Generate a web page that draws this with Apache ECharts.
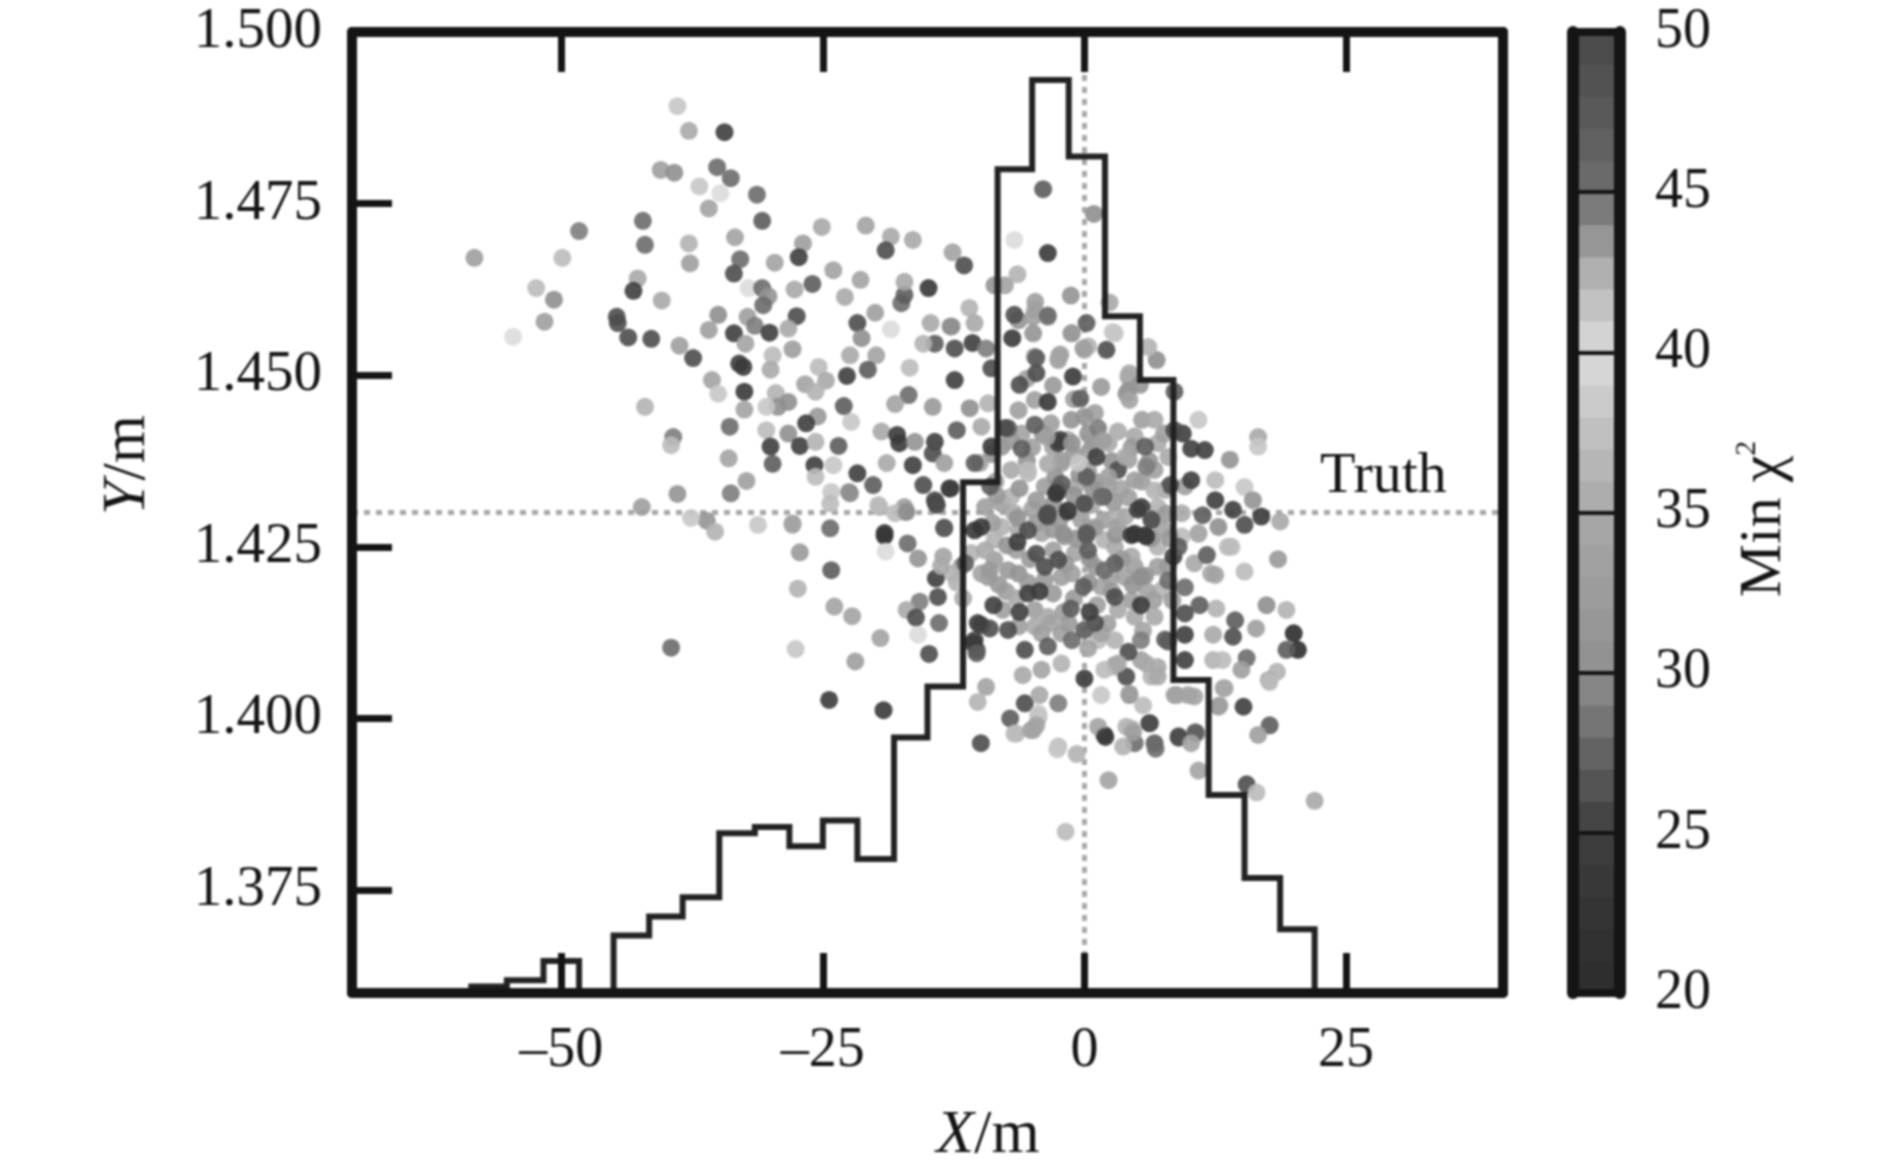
<!DOCTYPE html>
<html><head><meta charset="utf-8">
<style>html,body{margin:0;padding:0;background:#fff}#c{width:1890px;height:1174px;filter:blur(0.8px)}</style>
<script src="https://cdn.jsdelivr.net/npm/echarts@6/dist/echarts.min.js"></script>
</head><body><div id="c"></div>
<script>
const xTicks=[-50,-25,0,25];
const yTicks=[1.375,1.4,1.425,1.45,1.475,1.5];
const chiTicks=[25,30,35,40,45];
const truthX=0, truthY=1.43;
const histEdges=[-58.6,-55.2,-51.7,-48.3,-45,-41.6,-38.4,-34.9,-31.5,-28.2,-25,-21.7,-18.2,-15,-11.6,-8.3,-5,-1.5,1.96,5.3,8.5,11.87,15.3,18.7,22];
const histCounts=[1,2,5,0,9,12,15,25,26,23,27,21,40,48,80,129,143,131,106,96,49,31,18,10];
const greyStops=['#2c2c2c','#343434','#3e3e3e','#636363','#8f8f8f','#9c9c9c','#a8a8a8','#c0c0c0','#dcdcdc','#b0b0b0','#6e6e6e','#595959','#484848'];
const chiBands=[20,21,22,23,24,25,26,27,28,29,30,31,32,33,34,35,36,37,38,39,40,41,42,43,44,45,46,47,48,49];
// [X/m, Y/m, min chi^2]
const coreFill=[[-8.8,1.4385,31],[-7,1.4405,32],[-5.5,1.4375,31],[-4,1.4415,31],[-2.8,1.4352,31],[-1,1.4385,32],[.8,1.4402,32],[2.6,1.4375,31],[4.5,1.4395,32],[6.2,1.4375,31],[7.6,1.4415,33],[-8.4,1.4325,32],[-6.2,1.4335,31],[-4.6,1.4318,32],[-3,1.4312,31],[-1,1.4325,31],[.8,1.4335,31],[2.8,1.4315,32],[4.2,1.4322,33],[7.8,1.4298,32],[-8.8,1.4285,33],[-6.4,1.4292,31],[-4.6,1.4285,32],[-2.4,1.4288,32],[-.8,1.4262,31],[1,1.4278,32],[3,1.4268,31],[6.4,1.4262,32],[8.2,1.4262,32],[-7.4,1.4252,31],[-5.2,1.4232,32],[-1.8,1.4225,32],[.5,1.4232,31],[3.6,1.4232,32],[5.8,1.4208,31],[8,1.4222,32],[-8.2,1.4195,32],[-5.4,1.4198,32],[-3,1.4182,32],[.4,1.4198,31],[2.6,1.4185,32],[4.6,1.4195,31],[6.6,1.4172,33],[8.4,1.4172,33],[-7.8,1.4158,33],[-1.5,1.4138,32],[2.2,1.4138,33],[5.6,1.4128,34]];
const coreLight=[[-7,1.4362,35],[-5.4,1.4357,37],[-7.9,1.4313,33],[-6.7,1.4299,35],[-7.9,1.4279,36],[-3.8,1.4338,33],[-.9,1.4338,35],[.35,1.4362,33],[2.3,1.4338,33],[-2.2,1.4372,33],[-1.6,1.4406,35],[2.3,1.4401,35],[3.2,1.4418,37],[4.8,1.4411,35],[7,1.4401,35],[4.2,1.4377,33],[6.7,1.4362,33],[8,1.4381,35],[1.9,1.4289,33],[3.2,1.4294,36],[7,1.4308,36],[7.7,1.4333,35],[1.9,1.426,36],[-.3,1.4289,33],[-1.9,1.4265,33],[-4.1,1.427,34],[-6.3,1.4274,35],[-8.6,1.426,36],[-9.2,1.4206,32],[-7.3,1.4216,32],[-8.6,1.4231,33],[-6.3,1.4211,31],[-2.2,1.4206,33],[-3.8,1.4202,32],[-4.75,1.4158,33],[-3.5,1.4148,35],[-3.2,1.4139,34],[-4.75,1.4134,35],[-6.3,1.4134,33],[1,1.4221,32],[-1.2,1.4211,33],[1.6,1.4192,34],[3.85,1.4206,34],[4.8,1.4221,33],[7,1.4221,33],[7.4,1.4187,36],[4.5,1.4172,33],[4.8,1.4148,35],[6.7,1.4148,35],[3.2,1.4158,35],[7,1.425,36],[4.5,1.4236,35],[2.9,1.425,35],[-.9,1.4241,34],[-7.9,1.4396,31],[-6.3,1.4449,33],[-4.75,1.4464,33],[-2.5,1.4522,33],[-1.25,1.4561,33],[1.6,1.4483,35],[4.2,1.4498,34],[4.2,1.4478,31],[0,1.4537,35],[2.9,1.4561,38],[-4.75,1.4527,32],[-6.3,1.458,31],[-4.75,1.4595,36],[-3.5,1.4585,31],[-1.25,1.4435,31],[-3.2,1.443,33],[.35,1.4415,31],[-7,1.4323,36],[-9.5,1.4308,33],[-10.8,1.4241,36],[-9.85,1.4211,34],[-11.8,1.4221,35],[1.3,1.4114,37],[2.9,1.4114,36],[5.4,1.4085,33],[7,1.4075,35],[6.4,1.4061,36],[2.9,1.4075,37],[1.6,1.4124,34],[.35,1.4102,34],[-2.2,1.4124,33],[-4.1,1.4124,33],[9.3,1.4265,37],[10.9,1.427,36],[12.1,1.4211,35],[13.7,1.425,37],[10.5,1.4226,35],[9.3,1.4299,35],[9.6,1.4338,33],[-5,1.4395,33],[-3,1.4395,34],[.5,1.439,33],[5.5,1.4435,33],[-6,1.4415,34],[-8.5,1.4345,34],[-5,1.4305,34],[-3,1.4275,32],[-.5,1.4355,31],[1,1.4345,32],[3.5,1.4335,34],[5.5,1.4345,33],[7.5,1.4275,34],[.5,1.4275,34],[-6.5,1.4245,33],[-3,1.4245,33],[-7.5,1.4185,33],[-1,1.4175,32],[1.2,1.4165,33],[2.5,1.4205,33],[6,1.4185,34],[-2,1.4155,33],[-6.5,1.4175,35],[-9.5,1.4245,35],[-1,1.4465,33],[1,1.4445,33],[-3,1.4485,32],[-5.5,1.4495,33]];
const upperLeft=[[-58.3,1.4671,33],[-48.3,1.471,29],[-49.9,1.4671,37],[-52.4,1.4627,37],[-50.7,1.461,30],[-51.6,1.4578,33],[-54.6,1.4556,40],[-38.9,1.4892,38],[-37.8,1.4856,35],[-34.4,1.4854,25],[-40.5,1.4799,33],[-39.2,1.4795,30],[-35.1,1.4803,28],[-33.8,1.4787,28],[-36.8,1.4775,38],[-34.8,1.4765,40],[-31.3,1.4763,28],[-35.9,1.4743,34],[-30.8,1.4725,27],[-42.2,1.4725,28],[-42,1.469,28],[-37.8,1.4692,36],[-37.7,1.4663,33],[-33.4,1.4701,34],[-32.9,1.4669,28],[-33.5,1.4648,26],[-29.6,1.4664,34],[-26.9,1.4692,33],[-27.3,1.4672,25],[-25.1,1.4716,35],[-20.9,1.4718,34],[-18.5,1.4702,35],[-16.4,1.4697,35],[-19,1.4682,26],[-12.6,1.4679,34],[-24,1.4653,34],[-26,1.4633,27],[-21.4,1.4639,34],[-22.9,1.4614,35],[-27.7,1.4625,35],[-32.1,1.4627,40],[-30.8,1.4627,28],[-30.2,1.4615,31],[-30.7,1.4602,28],[-27.5,1.4586,26],[-21.7,1.4576,26],[-20,1.4591,33],[-17.5,1.4605,28],[-17.2,1.4617,27],[-17.2,1.4636,35],[-14.9,1.4627,23],[-18.5,1.4567,40],[-21.3,1.4554,30],[-42.7,1.4641,35],[-43.1,1.4623,25],[-40.4,1.4609,35],[-44.7,1.4585,26],[-44.6,1.4576,26],[-43.6,1.4555,26],[-41.4,1.4553,26],[-35,1.4588,30],[-35.9,1.4566,33],[-32.2,1.4585,33],[-31.5,1.4572,29],[-33.5,1.4561,25],[-30.1,1.4562,25],[-28.3,1.4568,35],[-27.9,1.4538,33],[-32.4,1.4546,34],[-38.7,1.4543,33],[-37.4,1.4525,26],[-33,1.4517,25],[-32.6,1.4512,24],[-29.8,1.4529,37],[-30,1.4508,35],[-25.4,1.4512,37],[-22.4,1.4529,35],[-19.9,1.4529,34],[-20.7,1.4508,27],[-22.7,1.4499,25],[-16.7,1.4511,37],[-24.7,1.4492,35],[-26.7,1.4487,34],[-35.6,1.4493,34],[-35,1.4473,38],[-32.5,1.4476,24],[-29.5,1.4474,36],[-25.7,1.4476,36],[-16.8,1.4471,28],[-18.1,1.4458,34],[-28.3,1.4461,30],[-29.3,1.4454,30],[-30.4,1.4454,38],[-32.5,1.445,34],[-42,1.4454,36],[-23,1.4455,27],[-14.5,1.4454,32],[-25.5,1.444,32],[-26.6,1.443,25],[-22.3,1.4432,38],[-33.9,1.4425,28],[-39.3,1.441,29],[-39.5,1.4398,37],[-30.4,1.442,37],[-28.3,1.4415,30],[-30,1.4396,25],[-29.8,1.4371,27],[-27.2,1.4397,25],[-25.7,1.4403,36],[-23.5,1.4397,27],[-25.8,1.4369,25],[-24,1.4369,38],[-25.7,1.4352,37],[-34,1.4379,34],[-32.3,1.4346,33],[-33.8,1.4328,29],[-38.9,1.4327,31],[-21.7,1.4357,25],[-18.9,1.4372,35],[-16.4,1.4369,25],[-20.2,1.434,27],[-22.5,1.433,30],[-24.2,1.433,38],[-19.4,1.4418,35],[-17.9,1.4413,24],[-17.7,1.4401,24],[-16.2,1.4403,31],[-14.3,1.4403,25],[-14.5,1.4386,26],[-15.4,1.434,26],[-14.3,1.4318,26],[-12.8,1.4335,24],[-13.4,1.4372,33],[-12.2,1.442,27],[-12.4,1.4493,25],[-14.3,1.4546,27],[-12.4,1.4539,26],[-15.4,1.4546,36],[-14.7,1.4576,35],[-12.8,1.4571,31],[-42.3,1.4308,33],[-24.3,1.4313,37],[-19.6,1.4308,36],[-17.2,1.4308,33]];
const centerPoints=[[-11.5,1.466,26],[-3.95,1.4771,27],[-3.5,1.4678,24],[-6.7,1.4697,40],[-6.4,1.4647,36],[.9,1.4735,30],[-8.6,1.4631,31],[-7.6,1.4631,34],[-1.3,1.4616,31],[2.4,1.4606,35],[-4.7,1.4607,33],[-4.9,1.4585,33],[-6.7,1.4588,26],[-3.5,1.4587,28],[.2,1.4576,27],[-1.2,1.4561,32],[2.7,1.4563,38],[-6.9,1.4554,24],[-4.9,1.4561,31],[2.1,1.4537,26],[.35,1.4542,36],[-2.3,1.453,35],[-4.6,1.4525,27],[-11,1.4598,36],[-10.5,1.4576,35],[-12.7,1.4571,30],[-10.7,1.4547,25],[-9.4,1.4539,29],[-8.9,1.451,26],[-10.96,1.4452,30],[-9.2,1.4459,36],[-4.6,1.4503,26],[-6.2,1.4486,26],[-3.5,1.4461,23],[-10,1.4372,34],[-10.5,1.4372,27],[-12.9,1.4335,25],[-9,1.4338,27],[-7.3,1.4423,27],[-4.75,1.4428,27],[-6,1.4393,27],[-8.9,1.4396,24],[-9.85,1.4425,35],[-5.4,1.4362,37],[-2.5,1.4401,25],[-2.5,1.4333,26],[-3.5,1.4299,26],[-9.85,1.4279,24],[-10.5,1.4274,23],[-13.4,1.4278,27],[-19.1,1.427,23],[-27.9,1.4282,34],[-24.3,1.4277,28],[-14.1,1.4311,26],[-17,1.4301,30],[6.9,1.4522,30],[6.1,1.4541,36],[-1.1,1.4498,24],[-2.4,1.4529,34],[-.1,1.4539,33],[-.4,1.4466,27],[4.3,1.4503,35],[1.6,1.4483,34],[4,1.4473,31],[5.3,1.4486,31],[4.3,1.4464,34],[8.6,1.4476,27],[3.2,1.4418,36],[6.7,1.4435,35],[10.9,1.4435,38],[9.4,1.4415,25],[8.6,1.442,26],[16.6,1.441,35],[16.6,1.4396,38],[10.2,1.4393,25],[11.5,1.4391,25],[13.9,1.4377,31],[5.8,1.4396,27],[1.15,1.4381,25],[3.2,1.4362,26],[-2.35,1.4406,25],[1.3,1.4423,29],[10.2,1.4347,25],[8.2,1.434,26],[12.5,1.4347,37],[15.3,1.4337,38],[12.5,1.4318,25],[16.1,1.4318,31],[14.2,1.4304,25],[11.3,1.4296,27],[16.9,1.4294,24],[15.3,1.4282,26],[12.8,1.4279,30],[18.7,1.4287,35],[-2.7,1.4328,25],[-2.2,1.4342,27],[-1.6,1.4301,26],[-3.5,1.4294,27],[1.8,1.4323,27],[.2,1.4352,27],[5.45,1.4308,25],[4.8,1.4269,23],[5.8,1.4267,23],[.2,1.4267,27],[10.9,1.4269,35],[-2,1.4269,30],[5.9,1.4367,29],[-.6,1.4372,38],[6.7,1.4332,36],[6.4,1.4291,31],[3.2,1.4279,33],[-1.2,1.4401,31],[0,1.444,31],[-3.6,1.441,33],[1.8,1.4405,33],[3.9,1.4381,35],[-2.2,1.4376,33],[-3.5,1.4371,35],[2.3,1.4352,33],[4.8,1.4347,33],[.67,1.4311,35],[3.9,1.4294,35],[-.9,1.4311,33],[-7.6,1.4423,26],[-2.7,1.4328,24],[-1.6,1.4303,24],[0,1.4313,26],[1.6,1.4323,28],[-3.6,1.4296,26],[-5.4,1.4274,26],[-6.4,1.4257,25],[-4.6,1.424,26],[-2.5,1.4231,26],[-3.8,1.4221,26],[.2,1.427,27],[.35,1.4245,27],[2.9,1.4226,27],[1.9,1.4216,28],[4.5,1.4267,23],[5.9,1.4265,24],[5.1,1.4304,25],[6.4,1.4289,26],[8.5,1.4236,25],[9,1.425,27],[11.7,1.4238,27],[-4.3,1.4185,24],[-5.4,1.4182,25],[-8.7,1.4165,25],[-6.2,1.4155,25],[-1.3,1.416,27],[2.9,1.4177,26],[5.4,1.4165,24],[.5,1.4155,25],[-.1,1.4192,27],[5.4,1.4206,30],[8,1.4201,28],[9.6,1.4191,28],[9.6,1.4153,26],[11,1.4165,27],[-13.7,1.4222,35],[-12.2,1.4198,36]];
const lowerPoints=[[9.6,1.4122,25],[9.6,1.4085,25],[8,1.4112,27],[-9.85,1.4136,26],[-9.05,1.4131,26],[-7.3,1.4129,26],[-5.7,1.41,26],[-3.5,1.4105,27],[-1.2,1.4114,28],[1,1.4139,26],[0,1.4129,27],[4.2,1.4097,26],[5.4,1.4114,29],[-10.5,1.4114,25],[-10.3,1.41,26],[0,1.4058,24],[4,1.4061,26],[2.9,1.4078,35],[6.2,1.3993,26],[1.9,1.3976,25],[15.2,1.4017,25],[17.7,1.399,27],[16.6,1.3976,33],[20,1.4124,20],[20.4,1.41,20],[19.3,1.41,27],[17.4,1.4165,30],[19.3,1.4158,36],[16.4,1.4131,33],[14.4,1.4143,27],[14.2,1.4119,26],[15.5,1.4088,28],[15,1.4071,33],[12.3,1.4122,35],[12.3,1.4085,36],[13.2,1.4085,37],[12.6,1.416,36],[18.4,1.4068,36],[17.6,1.4056,35],[13.3,1.4044,35],[12.8,1.4017,33],[10.5,1.4032,34],[8.8,1.4034,33],[10.7,1.3978,30],[9,1.3974,26],[18.5,1.4232,32],[15.3,1.4214,37],[14.05,1.425,37],[12.5,1.4209,34],[-9.4,1.4046,34],[-10.2,1.4024,36],[-5.9,1.4063,35],[-4.1,1.4071,34],[-2.2,1.408,36],[1.6,1.4034,38],[-5.7,1.4022,26],[-2.5,1.4022,29],[-7.1,1.4,27],[-6.5,1.3978,37],[-4.9,1.3983,35],[-4.4,1.4002,36],[-9.9,1.3964,26],[-2.5,1.3959,37],[1.3,1.3988,34],[4.5,1.3985,36],[4.3,1.4034,30],[5.6,1.4019,37],[6.7,1.3964,27],[4.8,1.3964,28],[-36.1,1.4288,31],[-35.3,1.4272,36],[-37.6,1.4292,38],[-31.2,1.4282,38],[-27.9,1.4284,34],[-22.4,1.4328,30],[-19.1,1.4266,22],[-19,1.4243,40],[-16.9,1.4255,28],[-15.9,1.4233,31],[-17.1,1.4301,31],[-19.7,1.4311,37],[-18.1,1.4299,37],[-14.2,1.4313,25],[-13.4,1.4277,27],[-13.5,1.4236,34],[-27.2,1.4242,32],[-24.2,1.4216,27],[-27.4,1.4189,36],[-14.2,1.4204,25],[-14,1.4177,26],[-15.75,1.417,29],[-17,1.4158,35],[-16.1,1.4147,26],[-13.9,1.4139,28],[-15.9,1.4122,40],[-23.9,1.4163,34],[-22.2,1.4149,34],[-19.5,1.4117,34],[-21.9,1.4083,33],[-27.6,1.4101,38],[-39.5,1.4103,28],[-14.85,1.4094,26],[-12.6,1.4211,36],[-11.6,1.4175,35],[-10.6,1.4109,24],[-10.3,1.4095,27],[-24.4,1.4027,24],[-19.2,1.4012,24],[-9.05,1.4216,32],[-11.4,1.4226,27],[-10.2,1.4139,25],[-4.3,1.4034,35],[-4.4,1.4007,38],[-4.6,1.399,34],[-6.7,1.3978,37],[-5.1,1.3983,34],[-2.6,1.3955,38],[-.75,1.3948,36],[-1.8,1.3835,37],[2.3,1.391,34],[4.3,1.4036,33],[2,1.3973,24],[6.25,1.3993,26],[4,1.3988,36],[4.65,1.398,33],[3.7,1.3959,36],[6.8,1.3956,28],[9,1.3972,26],[10.6,1.398,27],[10.2,1.3964,34],[10.9,1.3924,34],[15.5,1.3904,26],[16.45,1.3892,37],[22,1.388,35],[12.9,1.4019,33],[13.4,1.4044,35],[17.7,1.4053,37],[8.6,1.4034,34],[9.9,1.4034,34],[7.7,1.4115,27],[1.9,1.4071,37],[3.2,1.408,35],[5.9,1.408,35],[7,1.4061,35]];
const allPoints=coreLight.concat(coreFill,upperLeft,lowerPoints,centerPoints);

const serif='"Liberation Serif","Times New Roman",serif';
const ink='#141414';
const tickStyle={color:ink,width:7};
const histLine=[[histEdges[0],0]].concat(histCounts.map((c,i)=>[histEdges[i],c]),[[histEdges[histEdges.length-1],0]]);
const frameLine={show:true,onZero:false,lineStyle:{color:ink,width:10}};

const option={
 backgroundColor:'#fff',animation:false,
 grid:[{left:352,top:32,width:1151,height:961},{left:1573,top:32,width:47,height:961}],
 visualMap:{show:false,type:'continuous',min:20,max:50,dimension:2,seriesIndex:[2,4],inRange:{color:greyStops}},
 xAxis:[
  {type:'value',gridIndex:0,min:-70,max:40,position:'bottom',z:10,axisLine:frameLine,splitLine:{show:false},
   axisTick:{show:true,inside:true,length:40,lineStyle:tickStyle,customValues:xTicks},
   axisLabel:{fontFamily:serif,fontSize:56,color:ink,margin:30,customValues:xTicks,formatter:v=>v<0?'\u2013'+Math.abs(v):String(v)}},
  {type:'value',gridIndex:0,min:-70,max:40,position:'top',z:10,axisLine:frameLine,splitLine:{show:false},
   axisTick:{show:true,inside:true,length:40,lineStyle:tickStyle,customValues:xTicks},axisLabel:{show:false}},
  {type:'value',gridIndex:1,min:0,max:1,position:'bottom',z:10,axisLine:{show:true,onZero:false,lineStyle:{color:ink,width:8}},splitLine:{show:false},axisTick:{show:false},axisLabel:{show:false}},
  {type:'value',gridIndex:1,min:0,max:1,position:'top',z:10,axisLine:{show:true,onZero:false,lineStyle:{color:ink,width:8}},splitLine:{show:false},axisTick:{show:false},axisLabel:{show:false}}
 ],
 yAxis:[
  {type:'value',gridIndex:0,min:1.36,max:1.5,position:'left',z:10,axisLine:frameLine,splitLine:{show:false},
   axisTick:{show:true,inside:true,length:40,lineStyle:tickStyle,customValues:yTicks},
   axisLabel:{fontFamily:serif,fontSize:57,color:ink,margin:30,customValues:yTicks,formatter:v=>v.toFixed(3)}},
  {type:'value',gridIndex:0,min:1.36,max:1.5,position:'right',z:10,axisLine:frameLine,splitLine:{show:false},axisTick:{show:false},axisLabel:{show:false}},
  {type:'value',gridIndex:0,min:0,max:150.5,show:false,splitLine:{show:false}},
  {type:'value',gridIndex:1,min:20,max:50,position:'left',z:10,axisLine:{show:true,onZero:false,lineStyle:{color:ink,width:12}},splitLine:{show:false},axisTick:{show:false},axisLabel:{show:false}},
  {type:'value',gridIndex:1,min:20,max:50,interval:5,position:'right',z:10,axisLine:{show:true,onZero:false,lineStyle:{color:ink,width:12}},splitLine:{show:false},
   axisTick:{show:true,inside:true,length:47,lineStyle:{color:ink,width:4},customValues:chiTicks},
   axisLabel:{fontFamily:serif,fontSize:56,color:ink,margin:35}}
 ],
 series:[
  {type:'line',xAxisIndex:0,yAxisIndex:0,z:1,silent:true,symbol:'none',data:[[-70,truthY],[40,truthY]],lineStyle:{color:'#a8a8a8',width:5,type:[6,6]}},
  {type:'line',xAxisIndex:0,yAxisIndex:0,z:1,silent:true,symbol:'none',data:[[truthX,1.36],[truthX,1.5]],lineStyle:{color:'#a8a8a8',width:5,type:[6,6]}},
  {type:'scatter',xAxisIndex:0,yAxisIndex:0,z:2,silent:true,symbolSize:18,data:allPoints,itemStyle:{opacity:.9}},
  {type:'line',xAxisIndex:0,yAxisIndex:2,z:3,silent:true,symbol:'none',step:'end',data:histLine,lineStyle:{color:'#222',width:6,join:'miter'}},
  {type:'custom',xAxisIndex:2,yAxisIndex:4,z:2,silent:true,data:chiBands.map(v=>[0,v,v+.5]),encode:{x:0,y:1},
   renderItem:(p,api)=>{const v=api.value(1),a=api.coord([0,v+1]),b=api.coord([1,v]);
    return {type:'rect',shape:{x:a[0],y:a[1],width:b[0]-a[0],height:b[1]-a[1]+1},style:{fill:api.visual('color')}};}}
 ],
 graphic:[
  {type:'text',x:1320,y:477,z:20,silent:true,style:{text:'Truth',font:'58px '+serif,fill:ink,textAlign:'left',textVerticalAlign:'middle'}},
  {type:'text',x:988,y:1136,z:20,silent:true,style:{text:'{i|X}{n|/m}',textAlign:'center',textVerticalAlign:'middle',rich:{i:{font:'italic 62px '+serif,fill:ink},n:{font:'62px '+serif,fill:ink}}}},
  {type:'text',x:128,y:465,rotation:Math.PI/2,z:20,silent:true,style:{text:'{i|Y}{n|/m}',textAlign:'center',textVerticalAlign:'middle',rich:{i:{font:'italic 62px '+serif,fill:ink},n:{font:'62px '+serif,fill:ink}}}},
  {type:'text',x:1764,y:519,rotation:Math.PI/2,z:20,silent:true,style:{text:'{n|Min \u03c7}{s|2}',textAlign:'center',textVerticalAlign:'middle',rich:{n:{font:'60px '+serif,fill:ink,lineHeight:64},s:{font:'30px '+serif,fill:ink,verticalAlign:'top',lineHeight:32}}}}
 ]
};
echarts.init(document.getElementById('c'),null,{renderer:'canvas'}).setOption(option);
</script></body></html>
